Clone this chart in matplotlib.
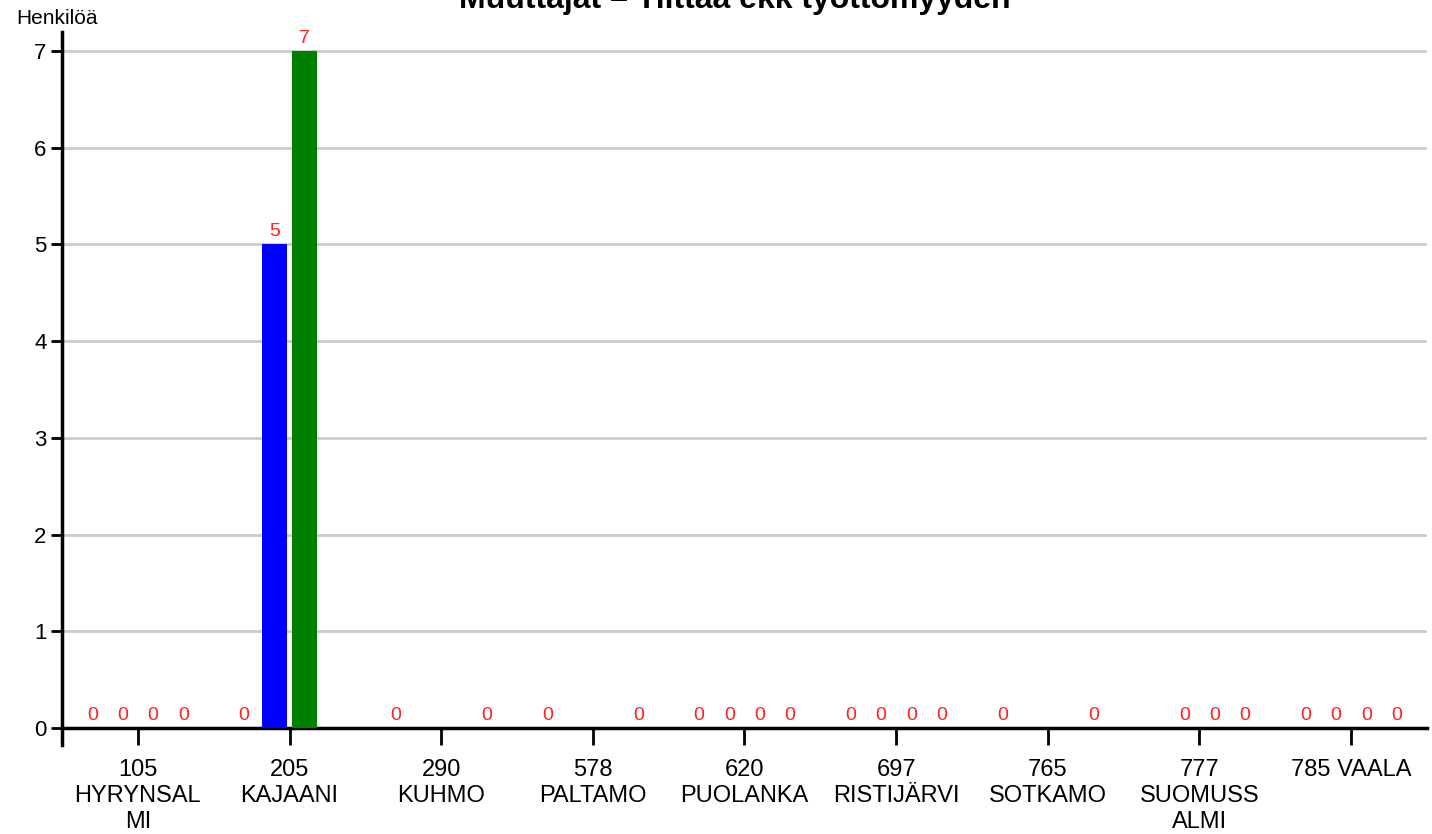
import numpy as np
import matplotlib
matplotlib.use("Agg")
import matplotlib.pyplot as plt

plt.rcParams['font.family'] = ['Liberation Sans', 'DejaVu Sans']

categories = ["105\nHYRYNSAL\nMI", "205\nKAJAANI", "290\nKUHMO", "578\nPALTAMO",
              "620\nPUOLANKA", "697\nRISTIJÄRVI", "765\nSOTKAMO",
              "777\nSUOMUSS\nALMI", "785 VAALA"]
# four series per municipality, None = no value
s1 = [0, 0, 0, 0, 0, 0, 0, None, 0]
s2 = [0, 5, None, None, 0, 0, None, 0, 0]
s3 = [0, 7, None, None, 0, 0, None, 0, 0]
s4 = [0, None, 0, 0, 0, 0, 0, 0, 0]
series = [s1, s2, s3, s4]
colors = ["#ff8c00", "#0000ff", "#008000", "#800080"]
offsets = [-0.3, -0.1, 0.1, 0.3]
yticks = [0, 1, 2, 3, 4, 5, 6, 7]

fig = plt.figure(figsize=(14.32, 8.34), dpi=100)
ax = fig.add_axes([0.0433, 0.1271, 0.9532, 0.835])

x = np.arange(len(categories))
for s, c, off in zip(series, colors, offsets):
    for i, v in enumerate(s):
        if v is None:
            continue
        ax.bar(x[i] + off, v, width=0.164, color=c, zorder=3)
        ax.annotate(str(v), (x[i] + off, v), xytext=(0, 3), textcoords="offset points",
                    ha="center", va="bottom", color="#ff2020", fontsize=14, zorder=4)

ax.set_xlim(-0.5, len(categories) - 0.5)
ax.set_ylim(0, 7.2)
ax.set_xticks(x)
ax.set_xticklabels(categories, fontsize=17, va="top", linespacing=1.25)
ax.set_yticks(yticks)
ax.set_yticklabels([str(t) for t in yticks], fontsize=16)
ax.yaxis.grid(True, color="#cccccc", linewidth=2, zorder=0)
ax.tick_params(axis="x", length=12, width=2, pad=10)
ax.tick_params(axis="y", length=8, width=2, pad=3)

for side in ["top", "right"]:
    ax.spines[side].set_visible(False)
ax.spines["left"].set_linewidth(2.5)
ax.spines["bottom"].set_linewidth(2.5)
ax.plot([0, 0], [0, -0.024], transform=ax.transAxes, color="black", lw=2.5, clip_on=False)

fig.text(16 / 1432, 1 - 18 / 834, "Henkilöä", fontsize=15, ha="left", va="center")
fig.text(0.513, 1.0, "Muuttajat – Tilttaa ekk työttömyyden", fontsize=23,
         fontweight="bold", ha="center", va="center")

fig.savefig("out.png", dpi=100)
